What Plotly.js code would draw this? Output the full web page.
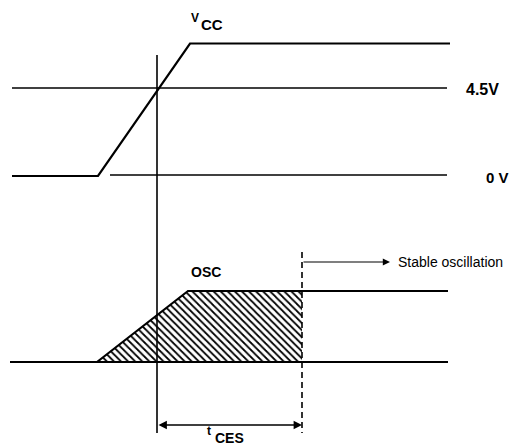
<!DOCTYPE html>
<html><head><meta charset="utf-8">
<script src="https://cdn.plot.ly/plotly-3.0.1.min.js"></script>
<style>html,body{margin:0;padding:0;background:#fff}#chart{width:518px;height:446px}</style>
</head><body><div id="chart"></div>
<script>
// Timing diagram data (horizontal = time position, vertical = level position)
const vccTime  = [12, 98, 190, 450];
const vccLevel = [176, 176, 43.5, 43.5];

const refLabels = ['4.5V', '0 V'];
const refLevels = [88, 175];
const refStart  = [12, 110];
const refEnd    = [447, 447];

const oscTime  = [97, 188, 448];
const oscLevel = [362, 291, 291];
const oscBaseTime  = [10, 448];
const oscBaseLevel = [362, 362];

const hatchTime  = [97, 188, 302, 302, 97];
const hatchLevel = [362, 291, 291, 362, 362];

const crossTime = 157;            // 4.5 V crossing
const stableTime = 302;           // start of stable oscillation
const crossSpan = [55, 433];
const stableSpan = [252, 433];

const lbl = {vccV: 'V', vccSub: 'CC', osc: 'OSC', stable: 'Stable oscillation', tcesT: 't', tcesSub: 'CES'};

const black = '#000';
const traces = [];
traces.push({x: hatchTime, y: hatchLevel, mode: 'lines', fill: 'toself', fillcolor: 'rgba(0,0,0,0)',
  fillpattern: {shape: '\\', fgcolor: black, bgcolor: 'white', size: 5, solidity: 0.35},
  line: {width: 0}, hoverinfo: 'skip'});
traces.push({x: vccTime, y: vccLevel, mode: 'lines', line: {color: black, width: 2.2}});
refLevels.forEach((lv, i) => traces.push({x: [refStart[i], refEnd[i]], y: [lv, lv], mode: 'lines', line: {color: black, width: 1.6}}));
traces.push({x: oscBaseTime, y: oscBaseLevel, mode: 'lines', line: {color: black, width: 2}});
traces.push({x: oscTime, y: oscLevel, mode: 'lines', line: {color: black, width: 2.2}});
traces.push({x: [crossTime, crossTime], y: crossSpan, mode: 'lines', line: {color: black, width: 1.6}});
traces.push({x: [stableTime, stableTime], y: stableSpan, mode: 'lines', line: {color: black, width: 1.6, dash: '6px,4px'}});

const font = (s, w) => ({family: 'Liberation Sans, Arial, sans-serif', size: s, color: black, weight: w || 'normal'});
const annotations = [
  {x: 189, y: 18, text: lbl.vccV, showarrow: false, xanchor: 'left', yanchor: 'middle', font: font(12, 'bold')},
  {x: 199, y: 24.5, text: lbl.vccSub, showarrow: false, xanchor: 'left', yanchor: 'middle', font: font(15, 'bold')},
  {x: 464, y: refLevels[0] + 1, text: refLabels[0], showarrow: false, xanchor: 'left', yanchor: 'middle', font: font(16, 'bold')},
  {x: 484, y: refLevels[1] + 2, text: refLabels[1], showarrow: false, xanchor: 'left', yanchor: 'middle', font: font(15, 'bold')},
  {x: 206, y: 271.5, text: lbl.osc, showarrow: false, xanchor: 'center', yanchor: 'middle', font: font(14, 'bold')},
  {x: 396, y: 262, text: lbl.stable, showarrow: false, xanchor: 'left', yanchor: 'middle', font: font(14)},
  {x: 205, y: 431, text: lbl.tcesT, showarrow: false, xanchor: 'left', yanchor: 'middle', font: font(12, 'bold')},
  {x: 213, y: 437.5, text: lbl.tcesSub, showarrow: false, xanchor: 'left', yanchor: 'middle', font: font(14, 'bold')},
  {x: 390, y: 262, ax: stableTime, ay: 262, axref: 'x', ayref: 'y', xref: 'x', yref: 'y', text: '', showarrow: true,
   arrowhead: 2, arrowsize: 1.2, arrowwidth: 1.2, arrowcolor: black},
  {x: stableTime, y: 425, ax: crossTime, ay: 425, axref: 'x', ayref: 'y', xref: 'x', yref: 'y', text: '', showarrow: true,
   arrowhead: 2, startarrowhead: 2, arrowside: 'end+start', arrowsize: 1.2, startarrowsize: 1.2, arrowwidth: 1.4, arrowcolor: black}
];

Plotly.newPlot('chart', traces, {
  width: 518, height: 446, margin: {l: 0, r: 0, t: 0, b: 0},
  paper_bgcolor: 'white', plot_bgcolor: 'white', showlegend: false,
  xaxis: {range: [0, 518], visible: false, fixedrange: true},
  yaxis: {range: [446, 0], visible: false, fixedrange: true},
  annotations: annotations
}, {staticPlot: true});
</script></body></html>
